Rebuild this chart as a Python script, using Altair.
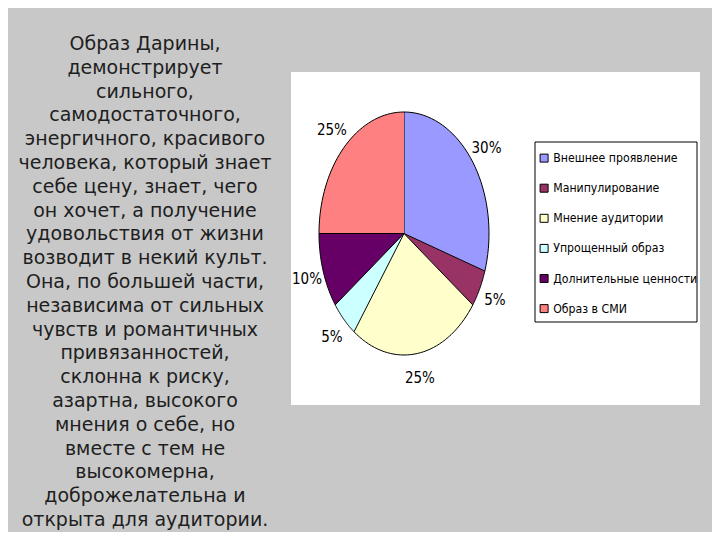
import altair as alt
import pandas as pd

categories = ["Внешнее проявление", "Манипулирование", "Мнение аудитории",
              "Упрощенный образ", "Долнительные ценности", "Образ в СМИ"]
values = [30, 5, 25, 5, 10, 25]
colors = ["#9999FF", "#993366", "#FFFFCC", "#CCFFFF", "#660066", "#FF8080"]
text_lines = [
    "Образ Дарины,", "демонстрирует", "сильного,", "самодостаточного,",
    "энергичного, красивого", "человека, который знает", "себе цену, знает, чего",
    "он хочет, а получение", "удовольствия от жизни", "возводит в некий культ.",
    "Она, по большей части,", "независима от сильных", "чувств и романтичных",
    "привязанностей,", "склонна к риску,", "азартна, высокого",
    "мнения о себе, но", "вместе с тем не", "высокомерна,",
    "доброжелательна и", "открыта для аудитории.",
]

NARROW = "Liberation Sans Narrow, Arial Narrow, DejaVu Sans Condensed, sans-serif"

df = pd.DataFrame({"cat": categories, "value": values, "k": list(range(len(values)))})

xs = alt.Scale(domain=[-1, 1], range=[311, 481])
ys = alt.Scale(domain=[-1, 1], range=[347, 104])

base = (
    alt.Chart(df)
    .transform_window(cum="sum(value)", sort=[alt.SortField("k")], frame=[None, 0])
    .transform_joinaggregate(total="sum(value)")
    .transform_calculate(start="datum.cum - datum.value")
)

pie = (
    base.transform_calculate(idx="sequence(-1, 41)")
    .transform_flatten(["idx"])
    .transform_calculate(
        a="2*PI*(datum.start + datum.value*max(datum.idx,0)/40)/datum.total",
        r="datum.idx < 0 ? 0 : 1",
    )
    .transform_calculate(px="datum.r*sin(datum.a)", py="datum.r*cos(datum.a)")
    .mark_line(filled=True, stroke="black", strokeWidth=1, strokeJoin="round")
    .encode(
        x=alt.X("px:Q", scale=xs, axis=None),
        y=alt.Y("py:Q", scale=ys, axis=None),
        color=alt.Color(
            "cat:N",
            sort=categories,
            scale=alt.Scale(domain=categories, range=colors),
            legend=alt.Legend(
                title=None, orient="none", legendX=530, legendY=144,
                direction="vertical", padding=0,
                symbolType="square", symbolSize=64, symbolStrokeColor="black",
                symbolStrokeWidth=1, symbolOpacity=1,
                labelFont=NARROW, labelFontSize=12.2, labelColor="black",
                labelLimit=300, rowPadding=17.1, labelOffset=3,
            ),
        ),
        order=alt.Order("idx:Q"),
    )
)

labels = (
    base.transform_calculate(mid="2*PI*(datum.start + datum.value/2)/datum.total")
    .transform_calculate(lx="1.2*sin(datum.mid)", ly="1.2*cos(datum.mid)",
                         lab="datum.value + '%'")
    .mark_text(font=NARROW, fontSize=15, color="black")
    .encode(
        x=alt.X("lx:Q", scale=xs, axis=None),
        y=alt.Y("ly:Q", scale=ys, axis=None),
        text="lab:N",
    )
)

box = (
    alt.Chart(alt.Data(values=[{}]))
    .mark_rect(color="white")
    .encode(x=alt.value(283), x2=alt.value(692), y=alt.value(64), y2=alt.value(397))
)

legend_frame = (
    alt.Chart(alt.Data(values=[{}]))
    .mark_rect(fill="white", stroke="black", strokeWidth=1)
    .encode(x=alt.value(527), x2=alt.value(689), y=alt.value(134), y2=alt.value(314))
)

para = (
    alt.Chart(alt.Data(values=[{}]))
    .mark_text(align="center", baseline="top", font="DejaVu Sans", fontSize=19,
               lineHeight=23.8, color="#1e1e1e")
    .encode(x=alt.value(137), y=alt.value(27), text=alt.value(text_lines))
)

chart = (
    alt.layer(box, legend_frame, pie, labels, para)
    .properties(width=704, height=524, background="#c8c8c8", padding=0, autosize="none")
    .configure_view(stroke=None)
)

chart.save("out.html", embed_options={"renderer": "svg", "actions": False})
